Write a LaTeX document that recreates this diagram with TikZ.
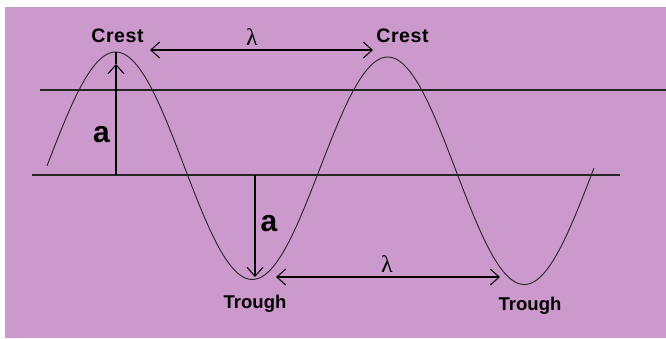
\documentclass[tikz,border=0pt]{standalone}
\usepackage{fontspec}
\setmainfont{Liberation Sans}
\newfontfamily\lamfont{Liberation Serif}
\usetikzlibrary{arrows.meta}
\definecolor{bgpurple}{RGB}{204,153,204}
\begin{document}
\begin{tikzpicture}[x=1pt,y=-1pt,
  axisline/.style={line width=1.5pt, black!85},
  wave/.style={line width=0.9pt, black!85},
  dimline/.style={line width=1.1pt, black},
  tipone/.style={-{Straight Barb[length=9pt,width=16pt,line width=1pt]}},
  tiptwo/.style={{Straight Barb[length=9pt,width=16pt,line width=1pt]}-{Straight Barb[length=9pt,width=16pt,line width=1pt]}},
  lbl/.style={font=\fontsize{18.5}{20}\selectfont\bfseries, inner sep=0pt, anchor=base},
  crestlbl/.style={lbl, font=\fontsize{19.5}{21}\selectfont\bfseries\addfontfeature{LetterSpace=3}},
  amp/.style={font=\fontsize{30}{34}\selectfont\bfseries, inner sep=0pt, anchor=base},
  lam/.style={font=\fontsize{24}{26}\selectfont\lamfont, inner sep=0pt, anchor=base}]
\useasboundingbox (0,0) rectangle (666,338);
\fill[white] (0,0) rectangle (666,338);
\fill[bgpurple] (5,7) rectangle (666,338);
% reference lines
\coordinate (u1) at (40,90);
\coordinate (u2) at (666,90);
\coordinate (l1) at (32,175);
\coordinate (l2) at (620,175);
\draw[axisline] (u1) -- (u2);
\draw[axisline] (l1) -- (l2);
% wave
\draw[wave] plot[domain=47:594, samples=240, smooth] (\x, {164.5+0.018382*(\x-116)-112.5*cos(1.323529*(\x-116))});
% amplitude arrows
\coordinate (base1) at (116,175);
\coordinate (tip1) at (116,64);
\coordinate (crest1) at (116,52);
\draw[dimline, tipone] (base1) -- (tip1);
\draw[dimline] (tip1) -- (crest1);
\coordinate (base2) at (255,175);
\coordinate (trough1) at (255,277);
\draw[dimline, tipone] (base2) -- (trough1);
% wavelength arrows
\coordinate (w1a) at (150,50);
\coordinate (w1b) at (373,50);
\draw[dimline, tiptwo] (w1a) -- (w1b);
\coordinate (w2a) at (276,277);
\coordinate (w2b) at (500,277);
\draw[dimline, tiptwo] (w2a) -- (w2b);
% labels
\node[crestlbl] (crestL) at (117.5,42) {Crest};
\node[crestlbl] (crestR) at (402.5,42) {Crest};
\node[lbl] (troughL) at (255,308) {Trough};
\node[lbl] (troughR) at (530,310) {Trough};
\node[amp] (ampL) at (101.5,142) {a};
\node[amp] (ampR) at (269,231) {a};
\node[lam] (lamT) at (252,45) {λ};
\node[lam] (lamB) at (387,272) {λ};
\end{tikzpicture}
\end{document}
